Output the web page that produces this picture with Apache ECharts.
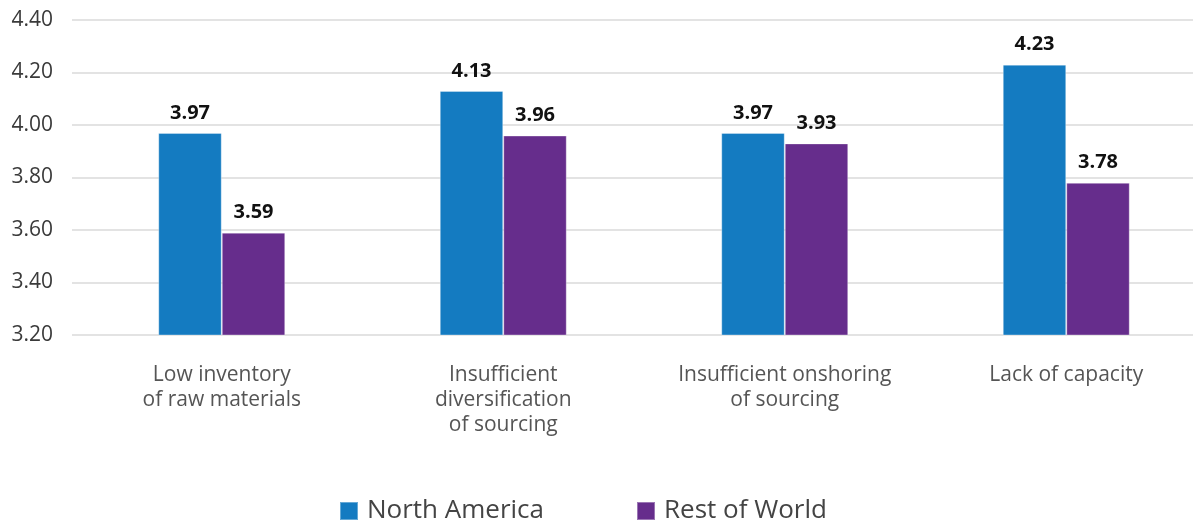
<!DOCTYPE html>
<html>
<head>
<meta charset="utf-8">
<script src="https://cdn.jsdelivr.net/npm/echarts@6/dist/echarts.min.js"></script>
<style>
  html, body { margin: 0; padding: 0; background: #ffffff; }
  #chart { width: 1193px; height: 523px; }
</style>
</head>
<body>
<div id="chart"></div>
<script>
// Supply-chain risk drivers: average scores by region
const categories = [
  'Low inventory\nof raw materials',
  'Insufficient\ndiversification\nof sourcing',
  'Insufficient onshoring\nof sourcing',
  'Lack of capacity'
];
const northAmerica = [3.97, 4.13, 3.97, 4.23];
const restOfWorld = [3.59, 3.96, 3.93, 3.78];
const seriesNames = ['North America', 'Rest of World'];
const yMin = 3.2, yMax = 4.4, yStep = 0.2;

const FONT = 'Open Sans';
const chart = echarts.init(document.getElementById('chart'));

const valueLabel = {
  show: true,
  position: 'top',
  distance: 10,
  fontFamily: FONT,
  fontSize: 20,
  fontWeight: 'bold',
  color: '#111111',
  formatter: p => p.value.toFixed(2)
};

chart.setOption({
  animation: false,
  textStyle: { fontFamily: FONT },
  grid: [
    // grid carrying the value axis labels and gridlines
    { left: 72, right: 0, top: 20, bottom: 188 },
    // grid carrying the bars and category labels (runs slightly past the right edge)
    { left: 81, width: 1126, top: 20, bottom: 188, outerBoundsMode: 'none' }
  ],
  legend: {
    data: seriesNames,
    left: 339,
    top: 498,
    padding: 0,
    itemWidth: 18,
    itemHeight: 18,
    itemGap: 92,
    icon: 'rect',
    textStyle: {
      fontFamily: FONT,
      fontSize: 26,
      lineHeight: 26,
      color: '#444444',
      padding: [0, 0, 0, 4]
    }
  },
  xAxis: [
    { gridIndex: 0, type: 'value', show: false, min: 0, max: 1 },
    {
      gridIndex: 1,
      type: 'category',
      data: categories,
      axisLine: { show: false },
      axisTick: { show: false },
      axisLabel: {
        interval: 0,
        margin: 28,
        fontFamily: FONT,
        fontSize: 21,
        lineHeight: 25,
        color: '#555555'
      }
    }
  ],
  yAxis: [
    {
      gridIndex: 0,
      type: 'value',
      min: yMin,
      max: yMax,
      interval: yStep,
      axisLine: { show: false },
      axisTick: { show: false },
      axisLabel: {
        margin: 19,
        fontFamily: FONT,
        fontSize: 21,
        color: '#3a3a3a',
        formatter: v => v.toFixed(2)
      },
      splitLine: { lineStyle: { color: '#e3e3e3', width: 2 } }
    },
    {
      gridIndex: 1,
      type: 'value',
      min: yMin,
      max: yMax,
      interval: yStep,
      show: false,
      splitLine: { show: false }
    }
  ],
  series: [
    {
      name: seriesNames[0],
      type: 'bar',
      xAxisIndex: 1,
      yAxisIndex: 1,
      data: northAmerica,
      barWidth: 63.5,
      barGap: '0%',
      itemStyle: { color: '#147BC1', borderColor: 'rgba(255,255,255,0.35)', borderWidth: 1 },
      label: valueLabel
    },
    {
      name: seriesNames[1],
      type: 'bar',
      xAxisIndex: 1,
      yAxisIndex: 1,
      data: restOfWorld,
      barWidth: 63.5,
      barGap: '0%',
      itemStyle: { color: '#662D8C', borderColor: 'rgba(255,255,255,0.35)', borderWidth: 1 },
      label: valueLabel
    }
  ]
});
</script>
</body>
</html>
